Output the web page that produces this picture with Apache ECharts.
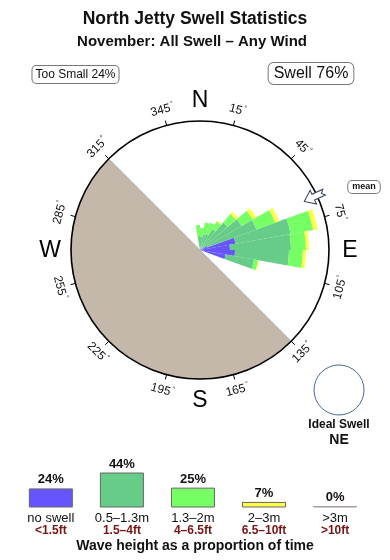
<!DOCTYPE html>
<html><head><meta charset="utf-8">
<script src="https://cdn.jsdelivr.net/npm/echarts@6/dist/echarts.min.js"></script>
<style>html,body{margin:0;padding:0;background:#fff}#c{width:390px;height:560px}</style>
</head><body><div id="c"></div>
<script>
const FONT = '"Liberation Sans", Arial, Helvetica, sans-serif';

// ---- Swell rose: 10-degree direction bins (bearing at bin start) ----
const dirBins  = [350, 0, 10, 20, 30, 40, 50, 60, 70, 80, 90, 100];
// stacked segment lengths per wave-height class (percent of time)
const noSwell  = [0,   0,   0,   0,   0,   0,   0,   0.8, 3.6, 3.0, 3.5, 2.6];
const swellA   = [1.4, 1.3, 1.6, 1.7, 2.4, 3.6, 4.8, 5.2, 5.6, 6.1, 5.4, 2.9]; // 0.5-1.3m
const swellB   = [1.1, 0.9, 1.2, 1.2, 0.9, 1.1, 1.3, 2.0, 2.3, 1.5, 1.4, 0.4]; // 1.3-2m
const swellC   = [0,   0,   0,   0,   0.1, 0.3, 0.4, 0.4, 0.45,0.3, 0.3, 0.1]; // 2-3m
const swellD   = [0,   0,   0,   0,   0,   0,   0,   0,   0,   0,   0,   0];  // >3m
const roseMax  = 12.9;

const meanDirection = 65;
const landFromTo = [135, 315];

const tickLabels = [15, 45, 75, 105, 135, 165, 195, 225, 255, 285, 315, 345];
const compassLabels = ['N', 'E', 'S', 'W'];
const compassBearings = [0, 90, 180, 270];

// ---- Wave height legend ----
const heightClasses = ['no swell', '0.5\u20131.3m', '1.3\u20132m', '2\u20133m', '>3m'];
const heightFeet    = ['<1.5ft', '1.5\u20134ft', '4\u20136.5ft', '6.5\u201310ft', '>10ft'];
const heightPct     = [24, 44, 25, 7, 0];
const classColors   = ['#6655ff', '#66cc88', '#77ff66', '#ffff44', '#d8b4b4'];

const angleCats = Array.from({length: 36}, (_, i) => String(i * 10));
function toBins(arr) {
  const out = new Array(36).fill(0);
  dirBins.forEach((b, i) => { out[b / 10] = arr[i]; });
  return out;
}
const roseSeries = [noSwell, swellA, swellB, swellC, swellD].map((arr, k) => ({
  type: 'bar', coordinateSystem: 'polar', polarIndex: 0, stack: 'rose',
  data: toBins(arr), barCategoryGap: '0%', silent: true, z: 3,
  itemStyle: { color: classColors[k] }
}));

function pt(cs, bearing, R) {
  const a = bearing * Math.PI / 180;
  return [cs.cx + R * Math.sin(a), cs.cy - R * Math.cos(a)];
}
function tangentRot(b) {
  const a = b * Math.PI / 180;
  return (b < 90 || b > 270) ? -a : Math.PI - a;
}

const hiddenAxis = { axisLine: {show: false}, axisTick: {show: false}, axisLabel: {show: false}, splitLine: {show: false} };

const chart = echarts.init(document.getElementById('c'), null, {renderer: 'canvas'});
chart.setOption({
  animation: false,
  backgroundColor: '#fff',
  polar: [
    {center: [200, 250], radius: 129},
    {center: [200, 250], radius: 129},
    {center: [200, 250], radius: 129}
  ],
  angleAxis: [
    Object.assign({polarIndex: 0, type: 'category', data: angleCats, startAngle: 90, clockwise: true}, hiddenAxis),
    Object.assign({polarIndex: 1, type: 'category', data: ['land', 'sea'], startAngle: 90 - landFromTo[0], clockwise: true}, hiddenAxis),
    {polarIndex: 2, type: 'value', min: 0, max: 360, interval: 30, startAngle: 75, clockwise: true, z: 10,
     axisLine: {show: true, lineStyle: {color: '#000', width: 1.6}},
     axisTick: {show: true, inside: false, length: 5, lineStyle: {color: '#000', width: 1}},
     axisLabel: {show: false}, splitLine: {show: false}}
  ],
  radiusAxis: [
    Object.assign({polarIndex: 0, type: 'value', min: 0, max: roseMax}, hiddenAxis),
    Object.assign({polarIndex: 1, type: 'value', min: 0, max: 1}, hiddenAxis),
    Object.assign({polarIndex: 2, type: 'value', min: 0, max: 1}, hiddenAxis)
  ],
  grid: {left: 15.3, top: 428, width: 355.3, height: 79.5},
  xAxis: {
    type: 'category', data: heightClasses,
    axisLine: {show: false}, axisTick: {show: false},
    axisLabel: {
      interval: 0, margin: 5,
      formatter: (v, i) => '{a|' + v + '}\n{b|' + heightFeet[i] + '}',
      rich: {
        a: {fontSize: 13, color: '#111', fontFamily: FONT, lineHeight: 12},
        b: {fontSize: 12, color: '#7a1414', fontWeight: 'bold', fontFamily: FONT, lineHeight: 12}
      }
    }
  },
  yAxis: {type: 'value', min: 0, max: 100, show: false},
  series: [
    {
      type: 'bar', coordinateSystem: 'polar', polarIndex: 1, data: [1, 0],
      barCategoryGap: '0%', silent: true, z: 1,
      itemStyle: {color: '#c4b8ab', borderColor: '#a9b4c0', borderWidth: 0.8}
    },
    ...roseSeries,
    {
      type: 'custom', coordinateSystem: 'polar', polarIndex: 2, silent: true, z: 12,
      data: tickLabels.map(b => [1, b]),
      renderItem: (params, api) => {
        const cs = params.coordSys;
        const b = api.value(1);
        const p = pt(cs, b, cs.r + 16);
        return {
          type: 'text', x: p[0], y: p[1], rotation: tangentRot(b),
          style: {
            text: b + '{d|\u00b0}', fill: '#111', fontSize: 12, fontFamily: FONT,
            align: 'center', verticalAlign: 'middle', textAlign: 'center', textVerticalAlign: 'middle',
            rich: {d: {fontSize: 7, fill: '#111', padding: [0, 0, 7, 1], fontFamily: FONT}}
          }
        };
      }
    },
    {
      type: 'custom', coordinateSystem: 'polar', polarIndex: 2, silent: true, z: 12,
      data: compassBearings.map(b => [1, b]),
      renderItem: (params, api) => {
        const cs = params.coordSys;
        const b = api.value(1);
        const p = pt(cs, b, cs.r + 21);
        return {
          type: 'text', x: p[0], y: p[1] + 1,
          style: {
            text: compassLabels[params.dataIndex], fill: '#000', fontSize: 23, fontFamily: FONT,
            align: 'center', verticalAlign: 'middle', textAlign: 'center', textVerticalAlign: 'middle'
          }
        };
      }
    },
    {
      type: 'custom', coordinateSystem: 'polar', polarIndex: 2, silent: true, z: 13,
      data: [[1, meanDirection]],
      renderItem: (params, api) => {
        const cs = params.coordSys;
        const b = api.value(1);
        const p = pt(cs, b, cs.r - 14);
        return {
          type: 'polygon', x: p[0], y: p[1], rotation: (90 - b) * Math.PI / 180,
          shape: {points: [[0, 0], [10, -7.5], [10, -3.2], [22, -3.2], [19, 0], [22, 3.2], [10, 3.2], [10, 7.5]]},
          style: {fill: '#fff', stroke: '#2f3f55', lineWidth: 1}
        };
      }
    },
    {
      type: 'bar', xAxisIndex: 0, yAxisIndex: 0, barWidth: 44, barMinHeight: 1.5,
      data: heightPct.map((v, i) => ({
        value: v,
        itemStyle: {color: classColors[i], borderColor: v === 0 ? '#a89c9c' : '#666', borderWidth: 1}
      })),
      label: {show: true, position: 'top', distance: 2, formatter: '{c}%',
              fontWeight: 'bold', fontSize: 13, color: '#111', fontFamily: FONT},
      silent: true
    }
  ],
  graphic: [
    {type: 'text', x: 195, y: 19, style: {text: 'North Jetty Swell Statistics', font: 'bold 17.5px ' + FONT, fill: '#111',
      align: 'center', verticalAlign: 'middle', textAlign: 'center', textVerticalAlign: 'middle'}},
    {type: 'text', x: 192, y: 42, style: {text: 'November: All Swell \u2013 Any Wind', font: 'bold 15px ' + FONT, fill: '#111',
      align: 'center', verticalAlign: 'middle', textAlign: 'center', textVerticalAlign: 'middle'}},
    {type: 'text', x: 75.5, y: 74.5, style: {text: 'Too Small 24%', font: '12px ' + FONT, fill: '#111',
      align: 'center', verticalAlign: 'middle', textAlign: 'center', textVerticalAlign: 'middle',
      padding: [3, 3, 2, 3], borderColor: '#777', borderWidth: 1, borderRadius: 4, backgroundColor: '#fff'}},
    {type: 'text', x: 311, y: 73.5, style: {text: 'Swell 76%', font: '16px ' + FONT, fill: '#111',
      align: 'center', verticalAlign: 'middle', textAlign: 'center', textVerticalAlign: 'middle',
      padding: [3, 5, 2, 5], borderColor: '#777', borderWidth: 1, borderRadius: 5, backgroundColor: '#fff'}},
    {type: 'text', x: 364, y: 187, style: {text: 'mean', font: 'bold 9px ' + FONT, fill: '#111',
      align: 'center', verticalAlign: 'middle', textAlign: 'center', textVerticalAlign: 'middle',
      padding: [2, 4, 1, 4], borderColor: '#777', borderWidth: 1, borderRadius: 4, backgroundColor: '#fff'}},
    {type: 'circle', shape: {cx: 339, cy: 390, r: 25}, style: {fill: '#fff', stroke: '#4a6a9a', lineWidth: 1}},
    {type: 'text', x: 339, y: 425, style: {text: 'Ideal Swell', font: 'bold 12px ' + FONT, fill: '#111',
      align: 'center', verticalAlign: 'middle', textAlign: 'center', textVerticalAlign: 'middle'}},
    {type: 'text', x: 339, y: 440, style: {text: 'NE', font: 'bold 14px ' + FONT, fill: '#111',
      align: 'center', verticalAlign: 'middle', textAlign: 'center', textVerticalAlign: 'middle'}},
    {type: 'text', x: 195, y: 546, style: {text: 'Wave height as a proportion of time', font: 'bold 14px ' + FONT, fill: '#111',
      align: 'center', verticalAlign: 'middle', textAlign: 'center', textVerticalAlign: 'middle'}}
  ]
});
</script></body></html>
